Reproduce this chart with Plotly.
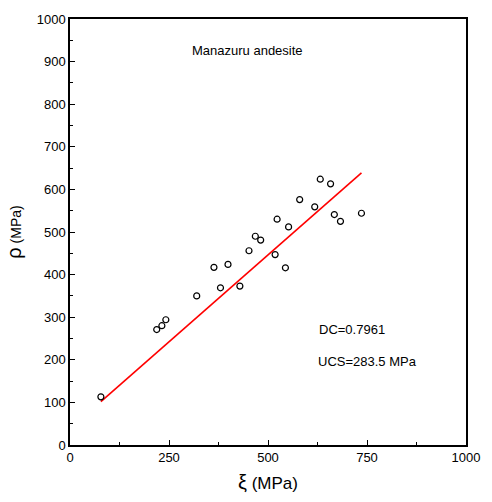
import plotly.graph_objects as go

xi = [78, 219, 232, 242, 320, 363.5, 380, 399, 429, 452, 468, 481.5, 518, 523, 544, 552, 580, 618, 632, 658, 667.5, 683, 736]
rho = [113, 271, 280, 294, 350, 417, 369, 424, 373, 456, 490, 481, 447, 530, 416, 512, 576, 559, 624, 613, 541, 525, 544]
fit_x = [78, 736]
fit_y = [102, 639]

x_ticks = [0, 250, 500, 750, 1000]
y_ticks = [0, 100, 200, 300, 400, 500, 600, 700, 800, 900, 1000]

FONT = "Arial, Liberation Sans, sans-serif"

fig = go.Figure()
fig.add_trace(go.Scatter(x=fit_x, y=fit_y, mode="lines",
                         line=dict(color="#ff0000", width=1.6), showlegend=False))
fig.add_trace(go.Scatter(x=xi, y=rho, mode="markers",
                         marker=dict(symbol="circle-open", size=6, color="black",
                                     line=dict(width=1.2, color="black")),
                         showlegend=False))

axis_common = dict(showgrid=False, zeroline=False, showline=True, linecolor="black",
                   linewidth=1.5, mirror=True, ticks="inside", ticklen=5, tickwidth=1,
                   tickcolor="black", tickfont=dict(family=FONT, size=13, color="black"))

fig.update_xaxes(range=[0, 1000], tickvals=x_ticks, ticktext=[str(v) for v in x_ticks],
                 minor=dict(ticks="inside", ticklen=3, dtick=125, tickcolor="black"),
                 title=dict(text="<span style='font-size:20px'>ξ</span> (MPa)",
                            font=dict(family=FONT, size=17, color="black"), standoff=13),
                 **axis_common)
fig.update_yaxes(range=[0, 1000], tickvals=y_ticks, ticktext=[str(v) for v in y_ticks],
                 minor=dict(ticks="inside", ticklen=3, dtick=50, tickcolor="black"),
                 title=dict(text="<span style='font-size:20px'>ρ</span> (MPa)",
                            font=dict(family=FONT, size=14, color="black"), standoff=12),
                 **axis_common)

fig.add_annotation(x=448, y=927, text="Manazuru andesite", showarrow=False,
                   font=dict(family=FONT, size=13, color="black"), xanchor="center", yanchor="middle")
fig.add_annotation(x=624, y=271, text="DC=0.7961", showarrow=False,
                   font=dict(family=FONT, size=13, color="black"), xanchor="left", yanchor="middle")
fig.add_annotation(x=622, y=197, text="UCS=283.5 MPa", showarrow=False,
                   font=dict(family=FONT, size=13, color="black"), xanchor="left", yanchor="middle")

fig.update_layout(width=492, height=502, margin=dict(l=70, r=24, t=14, b=56),
                  plot_bgcolor="white", paper_bgcolor="white",
                  font=dict(family=FONT, color="black"))

fig.write_html("out.html")
